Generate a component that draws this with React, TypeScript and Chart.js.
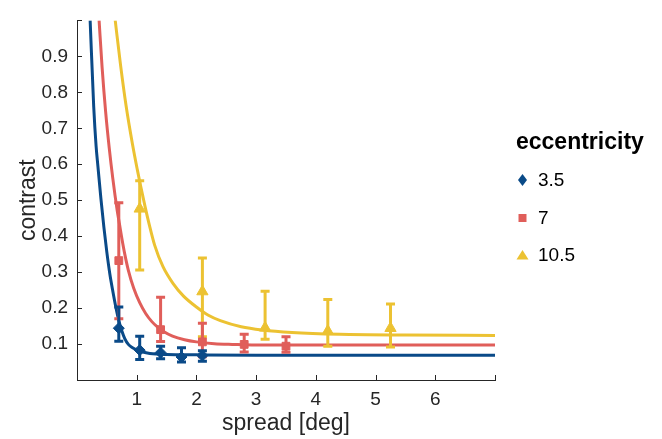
import React, { useEffect, useRef } from 'react';
import { Chart, registerables } from 'chart.js';

Chart.register(...registerables);

const FONT = '"Liberation Sans", Arial, Helvetica, sans-serif';
const TEXT = '#262626';

// ---- data ----
const seriesLabels = ['3.5', '7', '10.5'];
const seriesColors = ['#0A4A88', '#E05E5A', '#ECC232'];

const blueX = [0.7, 1.05, 1.4, 1.75, 2.1];
const blueY = [0.144, 0.083, 0.076, 0.064, 0.068];
const blueHigh = [0.203, 0.122, 0.094, 0.09, 0.081];
const blueLow = [0.108, 0.057, 0.059, 0.05, 0.052];

const redX = [0.7, 1.4, 2.1, 2.8, 3.5];
const redY = [0.332, 0.14, 0.106, 0.099, 0.094];
const redHigh = [0.493, 0.23, 0.158, 0.127, 0.12];
const redLow = [0.17, 0.107, 0.065, 0.078, 0.077];

const yellowX = [1.05, 2.1, 3.15, 4.2, 5.25];
const yellowY = [0.476, 0.246, 0.145, 0.136, 0.144];
const yellowHigh = [0.554, 0.339, 0.247, 0.224, 0.211];
const yellowLow = [0.306, 0.12, 0.113, 0.094, 0.092];

// fitted curves
const blueCurveX = [0.22, 0.28, 0.32, 0.35, 0.4, 0.45, 0.5, 0.55, 0.6, 0.65, 0.7, 0.75, 0.8, 0.86, 0.93, 1.0, 1.1, 1.22, 1.5, 2.0, 3.0, 7.0];
const blueCurveY = [1.0, 0.76, 0.65, 0.595, 0.505, 0.425, 0.355, 0.295, 0.247, 0.203, 0.165, 0.137, 0.115, 0.099, 0.09, 0.084, 0.078, 0.074, 0.071, 0.07, 0.069, 0.069];

const redCurveX = [0.37, 0.42, 0.48, 0.54, 0.6, 0.67, 0.71, 0.75, 0.8, 0.86, 0.95, 1.05, 1.15, 1.25, 1.35, 1.45, 1.6, 1.8, 2.0, 2.3, 2.6, 3.1, 7.0];
const redCurveY = [1.0, 0.87, 0.745, 0.645, 0.56, 0.475, 0.435, 0.395, 0.35, 0.305, 0.255, 0.215, 0.185, 0.163, 0.147, 0.135, 0.122, 0.112, 0.106, 0.101, 0.099, 0.097, 0.097];

const yellowCurveX = [0.64, 0.73, 0.82, 0.93, 1.01, 1.055, 1.14, 1.21, 1.3, 1.44, 1.61, 1.78, 2.0, 2.2, 2.4, 2.75, 3.1, 3.6, 4.4, 5.5, 7.0];
const yellowCurveY = [1.0, 0.875, 0.765, 0.655, 0.585, 0.548, 0.482, 0.432, 0.375, 0.315, 0.268, 0.234, 0.203, 0.18, 0.165, 0.148, 0.139, 0.132, 0.127, 0.125, 0.124];

const xTickValues = [1, 2, 3, 4, 5, 6];
const yTickValues = [0.1, 0.2, 0.3, 0.4, 0.5, 0.6, 0.7, 0.8, 0.9];
const xTitle = 'spread [deg]';
const yTitle = 'contrast';
const legendTitle = 'eccentricity';

const pts = (xs: number[], ys: number[]) => xs.map((x, i) => ({ x, y: ys[i] }));

const pointStyles = ['rectRot', 'rect', 'triangle'];
const pointRadii = [5.5, 5.5, 6.5];

const errorBarPlugin = {
  id: 'errorBars',
  beforeDatasetDraw(chart: any, args: any) {
    const ds = chart.data.datasets[args.index];
    if (!ds.errLow) return;
    const { ctx } = chart;
    const xs = chart.scales.x;
    const ys = chart.scales.y;
    ctx.save();
    ctx.strokeStyle = ds.borderColor;
    ctx.lineWidth = 3;
    ctx.lineCap = 'butt';
    ds.data.forEach((p: any, i: number) => {
      const px = xs.getPixelForValue(p.x);
      const yl = ys.getPixelForValue(ds.errLow[i]);
      const yh = ys.getPixelForValue(ds.errHigh[i]);
      ctx.beginPath();
      ctx.moveTo(px, yl);
      ctx.lineTo(px, yh);
      ctx.moveTo(px - 4.5, yl);
      ctx.lineTo(px + 4.5, yl);
      ctx.moveTo(px - 4.5, yh);
      ctx.lineTo(px + 4.5, yh);
      ctx.stroke();
    });
    ctx.restore();
  },
};

const inwardTicksPlugin = {
  id: 'inwardTicks',
  afterDraw(chart: any) {
    const { ctx, chartArea } = chart;
    const xs = chart.scales.x;
    const ys = chart.scales.y;
    ctx.save();
    ctx.strokeStyle = TEXT;
    ctx.lineWidth = 1;
    for (let v = 0; v <= 7; v++) {
      const px = Math.round(xs.getPixelForValue(v)) + 0.5;
      ctx.beginPath();
      ctx.moveTo(px, chartArea.bottom);
      ctx.lineTo(px, chartArea.bottom - 5);
      ctx.stroke();
    }
    for (let i = 0; i <= 10; i++) {
      const py = Math.round(ys.getPixelForValue(i / 10)) + 0.5;
      ctx.beginPath();
      ctx.moveTo(chartArea.left, py);
      ctx.lineTo(chartArea.left + 5, py);
      ctx.stroke();
    }
    ctx.restore();
  },
};

const legendPlugin = {
  id: 'customLegend',
  afterDraw(chart: any) {
    const { ctx } = chart;
    ctx.save();
    ctx.fillStyle = '#000';
    ctx.textBaseline = 'middle';
    ctx.textAlign = 'left';
    ctx.font = `bold 23px ${FONT}`;
    ctx.fillText(legendTitle, 516, 143);
    const rowsY = [180, 218, 255];
    ctx.font = `19px ${FONT}`;
    seriesLabels.forEach((lab, i) => {
      const cx = 522.5;
      const cy = rowsY[i];
      ctx.fillStyle = seriesColors[i];
      ctx.beginPath();
      if (i === 0) {
        ctx.moveTo(cx, cy - 6);
        ctx.lineTo(cx + 4.5, cy);
        ctx.lineTo(cx, cy + 6);
        ctx.lineTo(cx - 4.5, cy);
      } else if (i === 1) {
        ctx.rect(cx - 4, cy - 4, 8, 8);
      } else {
        ctx.moveTo(cx, cy - 5);
        ctx.lineTo(cx + 6, cy + 4.5);
        ctx.lineTo(cx - 6, cy + 4.5);
      }
      ctx.closePath();
      ctx.fill();
      ctx.fillStyle = '#000';
      ctx.fillText(lab, 538, cy + 1);
    });
    ctx.restore();
  },
};

export default function App() {
  const ref = useRef<HTMLCanvasElement | null>(null);
  useEffect(() => {
    document.body.style.margin = '0';
    const canvas = ref.current;
    if (!canvas) return;
    const curves = [
      pts(blueCurveX, blueCurveY),
      pts(redCurveX, redCurveY),
      pts(yellowCurveX, yellowCurveY),
    ];
    const markers = [
      { d: pts(blueX, blueY), lo: blueLow, hi: blueHigh },
      { d: pts(redX, redY), lo: redLow, hi: redHigh },
      { d: pts(yellowX, yellowY), lo: yellowLow, hi: yellowHigh },
    ];
    const datasets: any[] = [];
    markers.forEach((m, i) => {
      datasets.push({
        label: seriesLabels[i],
        data: m.d,
        errLow: m.lo,
        errHigh: m.hi,
        showLine: false,
        pointStyle: pointStyles[i],
        pointRadius: pointRadii[i],
        backgroundColor: seriesColors[i],
        borderColor: seriesColors[i],
        borderWidth: 1,
        order: i,
      });
    });
    curves.forEach((c, i) => {
      datasets.push({
        label: seriesLabels[i] + ' fit',
        data: c,
        showLine: true,
        pointRadius: 0,
        borderColor: seriesColors[i],
        borderWidth: 3,
        cubicInterpolationMode: 'monotone',
        fill: false,
        order: 10 + (2 - i),
      });
    });

    const chart = new Chart(canvas, {
      type: 'scatter',
      data: { datasets },
      options: {
        animation: false,
        responsive: false,
        events: [],
        layout: { padding: { left: 0, right: 167, top: 10, bottom: 0 } },
        plugins: { legend: { display: false }, tooltip: { enabled: false } },
        scales: {
          x: {
            type: 'linear',
            min: 0,
            max: 7,
            afterFit: (s: any) => { s.height = 59; },
            afterBuildTicks: (s: any) => { s.ticks = [0, ...xTickValues, 7].map((v) => ({ value: v })); },
            ticks: {
              autoSkip: false,
              maxRotation: 0,
              padding: 8,
              color: TEXT,
              font: { family: FONT, size: 19 },
              callback: (v: any) => (xTickValues.includes(Number(v)) ? String(v) : ''),
            },
            grid: { display: false, drawTicks: false },
            border: { display: true, color: TEXT, width: 1 },
            title: {
              display: true,
              text: xTitle,
              color: TEXT,
              font: { family: FONT, size: 23 },
              padding: { top: 0, bottom: 2 },
            },
          },
          y: {
            type: 'linear',
            min: 0,
            max: 1,
            afterFit: (s: any) => { s.width = 77; },
            afterBuildTicks: (s: any) => { s.ticks = [0, ...yTickValues, 1].map((v) => ({ value: v })); },
            ticks: {
              autoSkip: false,
              padding: 9,
              color: TEXT,
              font: { family: FONT, size: 19 },
              callback: (v: any) => {
                const n = Number(v);
                return yTickValues.some((t) => Math.abs(t - n) < 1e-9) ? n.toFixed(1) : '';
              },
            },
            grid: { display: false, drawTicks: false },
            border: { display: true, color: TEXT, width: 1 },
            title: {
              display: true,
              text: yTitle,
              color: TEXT,
              font: { family: FONT, size: 23 },
              padding: { top: 15, bottom: 0 },
            },
          },
        },
      } as any,
      plugins: [errorBarPlugin, inwardTicksPlugin, legendPlugin],
    });
    return () => chart.destroy();
  }, []);
  return (
    <div style={{ width: 662, height: 439 }}>
      <canvas ref={ref} width={662} height={439} style={{ display: 'block' }} />
    </div>
  );
}
